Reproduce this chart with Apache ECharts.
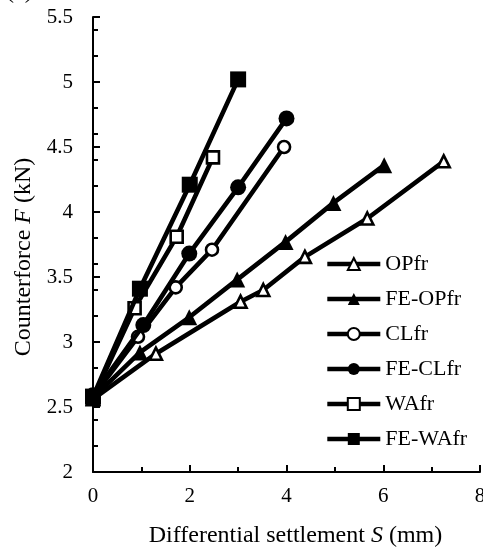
<!DOCTYPE html>
<html>
<head>
<meta charset="utf-8">
<script src="https://cdn.jsdelivr.net/npm/echarts@6/dist/echarts.min.js"></script>
<style>
  html, body { margin: 0; padding: 0; background: #fff; }
  #chart { width: 483px; height: 550px; }
</style>
</head>
<body>
<div id="chart"></div>
<script>
// Counterforce F (kN) against differential settlement S (mm), [S, F] pairs
const OPfr    = [[0, 2.56], [1.30, 2.91], [3.05, 3.31], [3.52, 3.40], [4.38, 3.655], [5.67, 3.95], [7.25, 4.39]];
const FE_OPfr = [[0, 2.57], [0.97, 2.92], [1.99, 3.19], [2.98, 3.48], [3.98, 3.77], [4.97, 4.07], [6.02, 4.36]];
const CLfr    = [[0, 2.58], [0.93, 3.04], [1.71, 3.42], [2.46, 3.71], [3.95, 4.50]];
const FE_CLfr = [[0, 2.59], [1.04, 3.13], [1.99, 3.68], [3.00, 4.19], [4.00, 4.72]];
const WAfr    = [[0, 2.57], [0.86, 3.26], [1.73, 3.81], [2.48, 4.42]];
const FE_WAfr = [[0, 2.58], [0.97, 3.41], [2.00, 4.21], [3.00, 5.02]];

const seriesNames = ['OPfr', 'FE-OPfr', 'CLfr', 'FE-CLfr', 'WAfr', 'FE-WAfr'];
const seriesData  = [OPfr, FE_OPfr, CLfr, FE_CLfr, WAfr, FE_WAfr];
const symbols     = ['triangle', 'triangle', 'circle', 'circle', 'rect', 'rect'];
const filled      = [false, true, false, true, false, true];

const xRange = { min: 0, max: 8, step: 2 };
const yRange = { min: 2, max: 5.5, step: 0.5, minorStep: 0.2 };

const FONT = '"Liberation Serif", "Times New Roman", serif';
const INK = '#000';
const LINE_W = 4.6;

const series = seriesNames.map((name, i) => ({
  name,
  type: 'line',
  data: seriesData[i],
  symbol: symbols[i],
  symbolSize: filled[i] ? 16 : 12,
  showAllSymbol: true,
  lineStyle: { color: INK, width: LINE_W },
  itemStyle: {
    color: filled[i] ? INK : '#fff',
    borderColor: INK,
    borderWidth: filled[i] ? 0 : 2.6
  },
  emphasis: { disabled: true },
  z: 2 + i
}));

const chart = echarts.init(document.getElementById('chart'), null, { renderer: 'canvas' });
chart.setOption({
  animation: false,
  backgroundColor: '#fff',
  grid: { left: 93, right: 3, top: 17, bottom: 78, containLabel: false, outerBoundsMode: 'none' },
  xAxis: {
    type: 'value',
    min: xRange.min, max: xRange.max, interval: xRange.step,
    axisLine: { show: true, onZero: false, lineStyle: { color: INK, width: 2 } },
    axisTick: { show: true, inside: true, length: 7, lineStyle: { color: INK, width: 2 } },
    minorTick: { show: true, splitNumber: 2, length: 5, lineStyle: { color: INK, width: 2 } },
    axisLabel: { color: INK, fontSize: 21, fontFamily: FONT, margin: 14 },
    splitLine: { show: false },
    name: 'Differential settlement {i|S} (mm)',
    nameLocation: 'middle',
    nameGap: 52,
    nameTextStyle: {
      color: INK, fontSize: 24, fontFamily: FONT, padding: [0, 0, 0, 18],
      rich: { i: { fontStyle: 'italic', color: INK, fontSize: 24, fontFamily: FONT } }
    }
  },
  yAxis: [
    {
      type: 'value',
      min: yRange.min, max: yRange.max, interval: yRange.step,
      position: 'left',
      axisLine: { show: true, onZero: false, lineStyle: { color: INK, width: 2 } },
      axisTick: { show: true, inside: true, length: 7, lineStyle: { color: INK, width: 2 } },
      axisLabel: { color: INK, fontSize: 21, fontFamily: FONT, margin: 20 },
      splitLine: { show: false }
    },
    {
      // minor ticks every 0.2 kN
      type: 'value',
      min: yRange.min, max: yRange.max, interval: yRange.minorStep,
      position: 'left', offset: 0,
      axisLine: { show: false },
      axisTick: { show: true, inside: true, length: 5, lineStyle: { color: INK, width: 2 } },
      axisLabel: { show: false },
      splitLine: { show: false }
    }
  ],
  legend: {
    orient: 'vertical',
    left: 325, top: 253,
    padding: 0,
    itemWidth: 53, itemHeight: 15, itemGap: 13,
    selectedMode: false,
    data: seriesNames,
    lineStyle: { width: LINE_W, color: INK },
    textStyle: { color: INK, fontSize: 22, lineHeight: 22, fontFamily: FONT }
  },
  graphic: [
    {
      type: 'text',
      x: 24, y: 257,
      rotation: Math.PI / 2,
      style: {
        text: 'Counterforce {i|F} (kN)',
        fill: INK, fontSize: 24, fontFamily: FONT,
        align: 'center', verticalAlign: 'middle',
        rich: { i: { fontStyle: 'italic', fill: INK, fontSize: 24, fontFamily: FONT } }
      }
    },
    {
      type: 'text',
      x: 6, y: 4,
      style: { text: '(a)', fill: INK, fontSize: 24, fontFamily: FONT, align: 'left', verticalAlign: 'bottom' }
    }
  ],
  series
});
</script>
</body>
</html>
